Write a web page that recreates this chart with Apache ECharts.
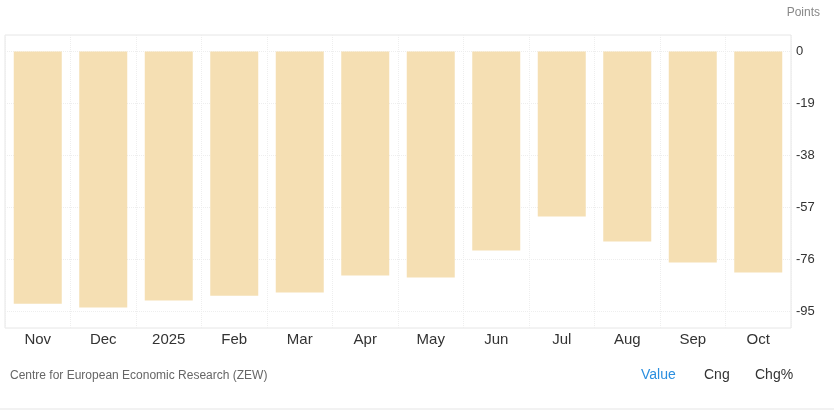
<!DOCTYPE html><html><head><meta charset="utf-8"><script src="https://cdn.jsdelivr.net/npm/echarts@6/dist/echarts.min.js"></script>
<style>body{margin:0;background:#fff}#c{width:834px;height:412px}</style></head><body><div id="c"></div>
<script>
const categories=['Nov','Dec','2025','Feb','Mar','Apr','May','Jun','Jul','Aug','Sep','Oct'];
const values=[-92.1,-93.5,-91.0,-89.2,-88.0,-81.8,-82.6,-72.7,-60.3,-69.4,-77.1,-80.7];
const tickValues=[0,-19,-38,-57,-76,-95];
const c=echarts.init(document.getElementById('c'));
c.setOption({
 animation:false,
 grid:{left:5,right:43,top:35,bottom:84,containLabel:false,show:true,borderColor:'#e6e6e6',borderWidth:1},
 graphic:[
  {type:'text',right:14,top:7,style:{text:'Points',fill:'#888',font:'12px Arial'}},
  {type:'text',left:10,top:370,style:{text:'Centre for European Economic Research (ZEW)',fill:'#666',font:'12px Arial'}},
  {type:'text',left:641,top:368,style:{text:'Value',fill:'#2b8fdf',font:'14px Arial'}},
  {type:'text',left:704,top:368,style:{text:'Cng',fill:'#333',font:'14px Arial'}},
  {type:'text',left:755,top:368,style:{text:'Chg%',fill:'#333',font:'14px Arial'}},
  {type:'line',shape:{x1:0,y1:409,x2:834,y2:409},style:{stroke:'#e5e5e5'}}
 ],
 xAxis:{type:'category',data:categories,axisLine:{show:false},axisTick:{show:false},
  axisLabel:{color:'#333',fontSize:15,fontFamily:'Arial',margin:4},
  splitLine:{show:true,lineStyle:{color:'#eee',type:'dotted'}}},
 yAxis:{type:'value',position:'right',min:-101,max:6,
  axisLine:{show:false},axisTick:{show:false,customValues:tickValues},
  axisLabel:{customValues:tickValues,color:'#333',fontSize:13,fontFamily:'Arial',margin:5},
  splitLine:{show:true,lineStyle:{color:'#eee',type:'dotted'}}},
 series:[{type:'bar',data:values,barWidth:48,itemStyle:{color:'#f5dfb3'}}]
});
</script></body></html>
